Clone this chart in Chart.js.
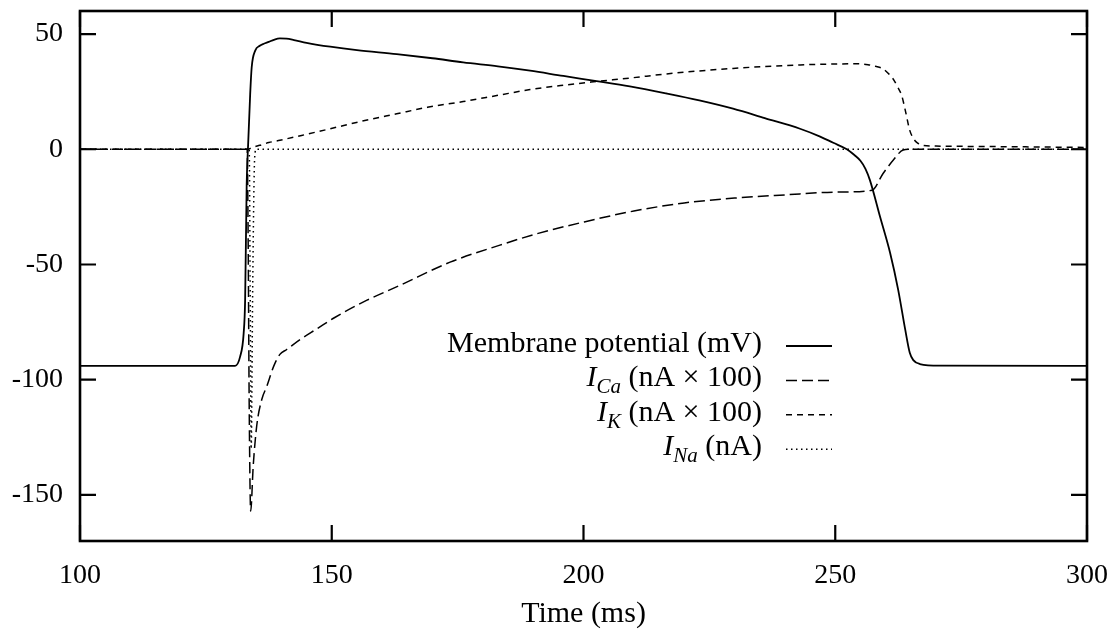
<!DOCTYPE html>
<html>
<head>
<meta charset="utf-8">
<script src="https://cdn.jsdelivr.net/npm/chart.js@4.4.1/dist/chart.umd.min.js"></script>
<style>
  html, body { margin: 0; padding: 0; background: #fff; }
  #wrap { width: 1118px; height: 641px; position: relative; }
</style>
</head>
<body>
<div id="wrap"><canvas id="c"></canvas></div>
<script>
// ---- data ----
const xTickValues = [100, 150, 200, 250, 300];
const yTickValues = [-150, -100, -50, 0, 50];

const vmTime = [100, 130, 130.8, 131.8, 132.5, 132.8, 133.1, 133.4, 133.8, 134.1, 134.8, 135.7, 136.5, 137.5, 138.5, 139.7, 141, 142.5, 145, 149.7, 155, 162.9, 170, 176.1, 183, 189.4, 196, 202.6, 209.2, 216.5, 223, 229.7, 236, 243, 247, 249.6, 252.3, 253.8, 255, 256, 256.9, 258.9, 260.9, 262.5, 263.9, 264.8, 265.5, 266.8, 270.8, 300];
const vmValue = [-94, -94, -94, -90, -80, -65, -16, 2.5, 24, 35.6, 42.8, 44.9, 45.8, 46.6, 47.5, 48.1, 48.0, 47.4, 46.2, 44.5, 43, 41.3, 39.5, 37.7, 36, 34.1, 31.8, 29.6, 27.3, 24.2, 21.2, 17.6, 13.5, 8.9, 5.5, 2.8, 0, -2.5, -5, -8.5, -13.5, -29.3, -45, -61, -78.3, -88.3, -91.5, -93.2, -93.9, -94];

const caTime = [100, 133.2, 133.4, 133.6, 133.9, 134.4, 135.1, 136.1, 137.1, 138.5, 139.7, 141, 143.7, 147, 150.6, 157, 163.6, 173.5, 183.4, 191, 200, 210, 220, 230, 240, 250, 257.3, 259.5, 261.5, 263.5, 265, 300];
const caValue = [0, 0, -40, -110, -157, -137.5, -120, -108.6, -102.9, -94, -89, -87, -82.6, -78, -73, -65.5, -59, -49, -41.6, -36.5, -31.6, -26.8, -23.3, -21.2, -19.8, -18.6, -17.8, -10.5, -4.8, -0.3, 0, 0];

const kTime = [100, 133.5, 133.9, 134.5, 135.7, 137.5, 139.7, 144, 149.7, 156, 162.9, 169, 176.1, 183, 189.4, 196, 202.6, 209.2, 216.5, 223, 229.7, 236, 243, 250, 254.5, 256.5, 258, 259.5, 260.5, 261.5, 262.4, 263.2, 264, 264.8, 265.8, 266.5, 267.5, 270, 280, 290, 300];
const kValue = [0, 0, 0.5, 1, 1.7, 2.9, 3.9, 6, 8.9, 12.2, 15.4, 18.2, 20.7, 23.4, 25.9, 27.8, 29.4, 30.9, 32.7, 34, 35.1, 35.9, 36.6, 37, 37.1, 36.7, 36, 34.9, 33, 30.5, 27, 23.3, 16, 8.2, 3.8, 2.5, 1.7, 1.4, 1.2, 1, 0.8];

const naTime = [100, 133.6, 133.8, 134.0, 134.3, 134.6, 134.8, 135, 300];
const naValue = [0, 0, -60, -130, -60, -10, -1, 0, 0];

const seriesLabels = [
  {main: 'Membrane potential (mV)', sub: null, rest: ''},
  {main: 'I', sub: 'Ca', rest: ' (nA \u00d7 100)'},
  {main: 'I', sub: 'K', rest: ' (nA \u00d7 100)'},
  {main: 'I', sub: 'Na', rest: ' (nA)'}
];
const xTitle = 'Time (ms)';

// ---- build datasets ----
function pairs(t, v) { return t.map((x, i) => ({x: x, y: v[i]})); }
const FONT = '"Liberation Serif", "Times New Roman", serif';

const common = {pointRadius: 0, fill: false, borderColor: '#000', cubicInterpolationMode: 'monotone', borderJoinStyle: 'round'};
const datasets = [
  Object.assign({}, common, {label: seriesLabels[0].main, data: pairs(vmTime, vmValue), borderWidth: 1.8, borderDash: []}),
  Object.assign({}, common, {label: 'I_Ca', data: pairs(caTime, caValue), borderWidth: 1.5, borderDash: [11, 5]}),
  Object.assign({}, common, {label: 'I_K', data: pairs(kTime, kValue), borderWidth: 1.5, borderDash: [6, 5]}),
  Object.assign({}, common, {label: 'I_Na', data: pairs(naTime, naValue), borderWidth: 1.5, borderDash: [1.5, 3.5]})
];

// frame, inward ticks and the legend
const framePlugin = {
  id: 'frame',
  afterDraw(chart) {
    const ctx = chart.ctx, a = chart.chartArea;
    const xs = chart.scales.x, ys = chart.scales.y;
    ctx.save();
    ctx.strokeStyle = '#000';
    ctx.lineWidth = 2.2;
    const TL = 16;
    ctx.beginPath();
    xTickValues.forEach(v => {
      const px = xs.getPixelForValue(v);
      ctx.moveTo(px, a.bottom); ctx.lineTo(px, a.bottom - TL);
      ctx.moveTo(px, a.top); ctx.lineTo(px, a.top + TL);
    });
    yTickValues.forEach(v => {
      const py = ys.getPixelForValue(v);
      ctx.moveTo(a.left, py); ctx.lineTo(a.left + TL, py);
      ctx.moveTo(a.right, py); ctx.lineTo(a.right - TL, py);
    });
    ctx.stroke();
    ctx.lineWidth = 2.6;
    ctx.strokeRect(a.left, a.top, a.right - a.left, a.bottom - a.top);

    // legend
    const textRight = 762, lineX0 = 786, lineX1 = 832;
    const rowY0 = 346, rowStep = 34.4;
    const mainFont = '30px ' + FONT;
    const italFont = 'italic 30px ' + FONT;
    const subFont = 'italic 21px ' + FONT;
    ctx.fillStyle = '#000';
    ctx.textBaseline = 'alphabetic';
    seriesLabels.forEach((lab, i) => {
      const y = rowY0 + i * rowStep;
      const base = y + 6;
      let parts;
      if (lab.sub) {
        parts = [
          {t: lab.main, f: italFont, dy: 0},
          {t: lab.sub, f: subFont, dy: 7},
          {t: lab.rest, f: mainFont, dy: 0}
        ];
      } else {
        parts = [{t: lab.main, f: mainFont, dy: 0}];
      }
      let w = 0;
      parts.forEach(p => { ctx.font = p.f; p.w = ctx.measureText(p.t).width; w += p.w; });
      let x = textRight - w;
      ctx.textAlign = 'left';
      parts.forEach(p => { ctx.font = p.f; ctx.fillText(p.t, x, base + p.dy); x += p.w; });
      const ds = datasets[i];
      ctx.beginPath();
      ctx.lineWidth = ds.borderWidth;
      ctx.setLineDash(ds.borderDash);
      ctx.moveTo(lineX0, y); ctx.lineTo(lineX1, y);
      ctx.stroke();
      ctx.setLineDash([]);
    });
    ctx.restore();
  }
};

new Chart(document.getElementById('c'), {
  type: 'line',
  data: {datasets: datasets},
  plugins: [framePlugin],
  options: {
    responsive: true,
    maintainAspectRatio: false,
    animation: false,
    layout: {padding: {left: 0, right: 31, top: 11, bottom: 0}},
    plugins: {legend: {display: false}, tooltip: {enabled: false}},
    scales: {
      x: {
        type: 'linear', min: 100, max: 300,
        afterFit(s) { s.height = 100; s.paddingLeft = 0; s.paddingRight = 0; },
        afterBuildTicks(s) { s.ticks = xTickValues.map(v => ({value: v})); },
        grid: {display: false, drawTicks: false},
        border: {display: false},
        ticks: {color: '#000', font: {family: FONT, size: 28}, padding: 18, maxRotation: 0, callback: v => String(v)},
        title: {display: true, text: xTitle, color: '#000', font: {family: FONT, size: 30}, padding: {top: 0, bottom: 9}}
      },
      y: {
        type: 'linear', min: -170, max: 60,
        afterFit(s) { s.width = 80; s.paddingTop = 0; s.paddingBottom = 0; },
        afterBuildTicks(s) { s.ticks = yTickValues.map(v => ({value: v})); },
        grid: {display: false, drawTicks: false},
        border: {display: false},
        ticks: {color: '#000', font: {family: FONT, size: 28}, padding: 17, callback: v => String(v)}
      }
    }
  }
});
</script>
</body>
</html>
